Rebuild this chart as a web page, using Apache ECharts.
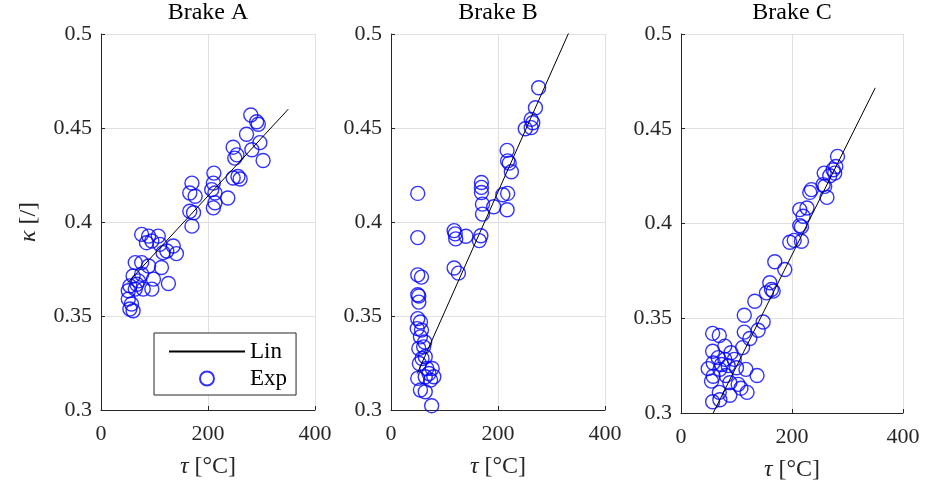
<!DOCTYPE html>
<html>
<head>
<meta charset="utf-8">
<script src="https://cdn.jsdelivr.net/npm/echarts@6/dist/echarts.min.js"></script>
<style>html,body{margin:0;padding:0;background:#fff}#c{width:925px;height:491px}</style>
</head>
<body>
<div id="c"></div>
<script>
const titles = ['Brake A', 'Brake B', 'Brake C'];
const xTicks = [0, 200, 400];
const yTicks = [0.3, 0.35, 0.4, 0.45, 0.5];

const aTau = [280,291,294,272,297,282,303,247,254,250,256,247,260,211,210,207,213,237,213,210,170,166,176,166,173,170,76,89,107,95,110,85,135,123,141,116,64,76,89,113,60,76,98,54,67,79,126,95,51,51,57,54,60,70,64];
const aKappa = [0.4569,0.4533,0.452,0.4467,0.4422,0.4384,0.4327,0.4398,0.4357,0.434,0.4242,0.4234,0.4229,0.426,0.4207,0.4172,0.4154,0.4128,0.4102,0.4075,0.4207,0.4154,0.4137,0.4057,0.4049,0.3978,0.3934,0.3925,0.3925,0.3899,0.3881,0.389,0.3872,0.3846,0.3832,0.3837,0.3784,0.3784,0.3766,0.3758,0.3713,0.3722,0.3696,0.366,0.3669,0.3643,0.3673,0.3643,0.3634,0.359,0.3564,0.3537,0.3528,0.3687,0.3643];
const aLinTau = [50, 350];
const aLinKappa = [0.3677, 0.4600];

const bTau = [276,270,262,265,262,251,217,218,221,225,169,169,169,209,218,171,192,217,171,118,120,121,140,168,165,118,126,50,50,50,57,50,52,52,50,55,49,57,55,63,52,61,58,64,53,67,77,71,80,50,64,74,55,64,76];
const bKappa = [0.4714,0.4608,0.4546,0.4528,0.4502,0.4496,0.4381,0.4325,0.4313,0.4267,0.421,0.4184,0.4157,0.4145,0.4152,0.4095,0.4081,0.4065,0.4042,0.3954,0.3937,0.391,0.3924,0.3927,0.3901,0.3755,0.3728,0.4152,0.3917,0.3719,0.3707,0.3613,0.3606,0.3574,0.3486,0.3468,0.3433,0.3425,0.3389,0.3362,0.3327,0.3336,0.3274,0.3283,0.3247,0.3221,0.3221,0.3194,0.3177,0.3168,0.3177,0.3159,0.3106,0.3097,0.3023];
const bLinTau = [49, 350];
const bLinKappa = [0.3194, 0.5120];

const cTau = [282,279,274,277,258,268,256,259,263,235,232,214,227,220,214,217,196,204,217,169,187,160,163,166,154,133,114,148,139,114,124,57,69,79,111,57,90,67,79,96,58,73,85,49,70,100,117,137,58,81,88,103,55,108,119,69,88,57,70];
const cKappa = [0.4354,0.4301,0.4284,0.4266,0.4266,0.4252,0.4205,0.4196,0.4138,0.4179,0.4164,0.4073,0.4082,0.4038,0.3989,0.3982,0.3901,0.3911,0.3906,0.3798,0.3757,0.3687,0.3652,0.3643,0.3634,0.359,0.3516,0.348,0.3437,0.3427,0.3393,0.342,0.3409,0.3353,0.3345,0.3326,0.3318,0.3292,0.3283,0.3283,0.3264,0.3256,0.325,0.3234,0.323,0.3239,0.323,0.3198,0.3194,0.3198,0.316,0.3151,0.3168,0.3131,0.3109,0.3109,0.3094,0.3059,0.307];
const cLinTau = [50, 350];
const cLinKappa = [0.2953, 0.4716];

const FONT = '"Liberation Serif", "Times New Roman", serif';
const AX = '#262626';
const GRIDC = '#e0e0e0';

const zip = (xs, ys) => xs.map((x, i) => [x, ys[i]]);
const exps = [zip(aTau, aKappa), zip(bTau, bKappa), zip(cTau, cKappa)];
const lins = [zip(aLinTau, aLinKappa), zip(bLinTau, bLinKappa), zip(cLinTau, cLinKappa)];

const grids = [
  {left: 101, top: 34, width: 214, height: 376},
  {left: 391, top: 34, width: 214, height: 376},
  {left: 681, top: 34, width: 222, height: 379}
];

const option = {
  animation: false,
  backgroundColor: '#fff',
  title: titles.map((t, i) => ({
    text: t,
    left: grids[i].left + grids[i].width / 2,
    textAlign: 'center',
    top: 1,
    padding: 0,
    textStyle: {fontFamily: FONT, fontSize: 24, fontWeight: 'normal', color: '#000'}
  })),
  grid: grids,
  xAxis: grids.map((g, i) => ({
    type: 'value', gridIndex: i, min: xTicks[0], max: xTicks[xTicks.length - 1], interval: 200,
    name: '{i|τ} [°C]', nameLocation: 'middle', nameGap: 45,
    nameTextStyle: {fontFamily: FONT, fontSize: 24, color: '#262626',
      rich: {i: {fontFamily: FONT, fontSize: 24, fontStyle: 'italic', color: '#262626'}}},
    axisLine: {show: true, lineStyle: {color: AX, width: 1}},
    axisTick: {show: true, inside: true, length: 4, lineStyle: {color: AX}},
    axisLabel: {fontFamily: FONT, fontSize: 22, color: '#262626', margin: 13},
    splitLine: {show: true, lineStyle: {color: GRIDC, width: 1}}
  })),
  yAxis: grids.map((g, i) => ({
    type: 'value', gridIndex: i, min: yTicks[0], max: yTicks[yTicks.length - 1], interval: 0.05,
    name: i === 0 ? '{i|κ} [/]' : '', nameLocation: 'middle', nameGap: 60, nameRotate: 90,
    nameTextStyle: {fontFamily: FONT, fontSize: 24, color: '#262626',
      rich: {i: {fontFamily: FONT, fontSize: 24, fontStyle: 'italic', color: '#262626'}}},
    axisLine: {show: true, lineStyle: {color: AX, width: 1}},
    axisTick: {show: true, inside: true, length: 4, lineStyle: {color: AX}},
    axisLabel: {fontFamily: FONT, fontSize: 22, color: '#262626', margin: 9,
      formatter: v => String(parseFloat(v.toFixed(2)))},
    splitLine: {show: true, lineStyle: {color: GRIDC, width: 1}}
  })),
  legend: {
    data: [
      {name: 'Lin', itemStyle: {opacity: 0, color: 'rgba(0,0,0,0)', borderWidth: 0}},
      {name: 'Exp'}
    ],
    orient: 'vertical',
    left: 154, top: 333,
    padding: [7, 9, 5, 14],
    itemWidth: 76, itemHeight: 14, itemGap: 4,
    borderColor: AX, borderWidth: 1, backgroundColor: '#fff',
    textStyle: {fontFamily: FONT, fontSize: 23, color: '#000'},
    selectedMode: false
  },
  series: []
};

for (let i = 0; i < 3; i++) {
  option.series.push({
    name: 'Lin', type: 'line', xAxisIndex: i, yAxisIndex: i,
    data: lins[i], symbol: 'none', clip: true,
    lineStyle: {color: '#000', width: 1}, itemStyle: {color: '#000'}, z: 3
  });
  option.series.push({
    name: 'Exp', type: 'scatter', xAxisIndex: i, yAxisIndex: i,
    data: exps[i], symbol: 'circle', symbolSize: 14,
    itemStyle: {color: 'rgba(0,0,0,0)', borderColor: '#0000ff', borderWidth: 1.4}, z: 2
  });
}

const chart = echarts.init(document.getElementById('c'), null, {renderer: 'canvas'});
chart.setOption(option);
</script>
</body>
</html>
